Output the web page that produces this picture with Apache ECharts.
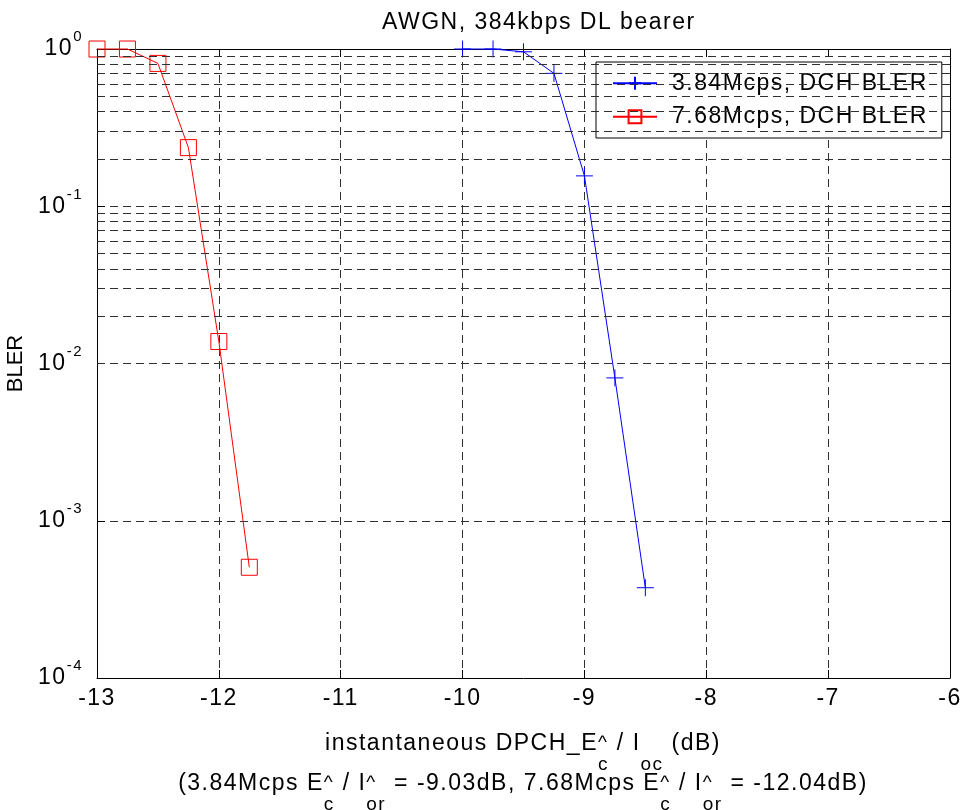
<!DOCTYPE html>
<html><head><meta charset="utf-8">
<script src="https://cdn.jsdelivr.net/npm/echarts@6/dist/echarts.min.js"></script>
<style>html,body{margin:0;padding:0;background:#fff}#c{width:975px;height:810px}</style>
</head><body><div id="c"></div>
<script>
// ---- data ----
const xTicks = [-13, -12, -11, -10, -9, -8, -7, -6];
const ec384 = [-10, -9.75, -9.5, -9.25, -9, -8.75, -8.5];
const bler384 = [1.0, 1.0, 0.96, 0.70, 0.156, 0.0081, 0.000375];
const ec768 = [-13, -12.75, -12.5, -12.25, -12, -11.75];
const bler768 = [1.0, 1.0, 0.81, 0.236, 0.0138, 0.000506];
const yDecades = [-4, -3, -2, -1];
const yMinorMultipliers = [2, 3, 4, 5, 6, 7, 8, 9];
const seriesNames = ['3.84Mcps, DCH BLER', '7.68Mcps, DCH BLER'];
const titleText = 'AWGN, 384kbps DL bearer';
const yName = 'BLER';
const xNameLine1 = ['instantaneous DPCH_E', {sup: '^', sub: 'c'}, ' / I', {sub: 'oc'}, ' (dB)'];
const xNameLine2 = ['(3.84Mcps E', {sup: '^', sub: 'c'}, ' / I', {sup: '^', sub: 'or'}, ' = -9.03dB, 7.68Mcps E', {sup: '^', sub: 'c'}, ' / I', {sup: '^', sub: 'or'}, ' = -12.04dB)'];

// ---- letter spacing to mimic the wide MATLAB text rendering ----
const LETTER_SPACING = '1.5px';
(function () {
  const P = CanvasRenderingContext2D.prototype;
  const d = Object.getOwnPropertyDescriptor(P, 'font');
  if (!d || !('letterSpacing' in P)) return;
  Object.defineProperty(P, 'font', {
    configurable: true,
    get() { return d.get.call(this); },
    set(v) { d.set.call(this, v); this.letterSpacing = /Narrow/.test(v) ? '0px' : LETTER_SPACING; }
  });
})();

const FONT = '"Liberation Sans", Arial, Helvetica, sans-serif';
const BIG = 23, SMALL = 19;
const mctx = document.createElement('canvas').getContext('2d');
function tw(t, size) { mctx.font = size + 'px ' + FONT; return mctx.measureText(t).width; }

function mathLine(parts, cx, cy) {
  const widths = parts.map(p => typeof p === 'string' ? tw(p, BIG)
    : Math.max(p.sup ? tw(p.sup, SMALL) : 0, p.sub ? tw(p.sub, SMALL) : 0));
  const total = widths.reduce((a, b) => a + b, 0);
  let x = cx - total / 2;
  const els = [];
  parts.forEach((p, i) => {
    if (typeof p === 'string') {
      els.push({type: 'text', x: x, y: cy, style: {text: p, fontSize: BIG, fontFamily: FONT, fill: '#000', align: 'left', verticalAlign: 'middle'}});
    } else {
      if (p.sup) els.push({type: 'text', x: x, y: cy - 1, style: {text: p.sup, fontSize: SMALL, fontFamily: FONT, fill: '#000', align: 'left', verticalAlign: 'middle'}});
      if (p.sub) els.push({type: 'text', x: x, y: cy + 21, style: {text: p.sub, fontSize: SMALL, fontFamily: FONT, fill: '#000', align: 'left', verticalAlign: 'middle'}});
    }
    x += widths[i];
  });
  return els;
}

const minorGrid = [];
yDecades.forEach(d => yMinorMultipliers.forEach(m => minorGrid.push({yAxis: m * Math.pow(10, d)})));

const dash = [8, 5];
const gridColor = '#303030';
const plusPath = 'path://M0,8L16,8M8,0L8,16';

const chart = echarts.init(document.getElementById('c'), null, {renderer: 'canvas'});
chart.setOption({
  animation: false,
  backgroundColor: '#fff',
  textStyle: {fontFamily: FONT},
  title: {text: titleText, left: 377, top: 5, textStyle: {fontSize: BIG, fontWeight: 'normal', color: '#000', fontFamily: FONT}},
  grid: {left: 97, right: 25, top: 49, bottom: 132, containLabel: false, outerBoundsMode: 'none'},
  legend: {
    orient: 'vertical', left: 596, top: 62, padding: [9, 14, 9, 16], itemGap: 9,
    itemWidth: 44, itemHeight: 16, backgroundColor: '#fff', borderColor: '#000', borderWidth: 1,
    textStyle: {fontSize: BIG, color: '#000', fontFamily: FONT, lineHeight: 24, padding: [0, 0, 0, 10]},
    data: seriesNames
  },
  xAxis: [{
    type: 'value', min: xTicks[0], max: xTicks[xTicks.length - 1], interval: 1, position: 'bottom',
    axisLine: {show: true, onZero: false, lineStyle: {color: '#000', width: 1}},
    axisTick: {show: true, inside: true, length: 8, lineStyle: {color: '#000'}},
    axisLabel: {color: '#000', fontSize: BIG, fontFamily: FONT, margin: 8},
    splitLine: {show: true, lineStyle: {color: gridColor, type: dash, width: 1}}
  }, {
    type: 'value', min: xTicks[0], max: xTicks[xTicks.length - 1], interval: 1, position: 'top',
    axisLine: {show: true, onZero: false, lineStyle: {color: '#000', width: 1}},
    axisTick: {show: true, inside: true, length: 8, lineStyle: {color: '#000'}},
    axisLabel: {show: false}, splitLine: {show: false}
  }],
  yAxis: [{
    type: 'log', logBase: 10, min: 1e-4, max: 1, position: 'left',
    name: yName, nameLocation: 'middle', nameGap: 61,
    nameTextStyle: {fontSize: 22, color: '#000', fontFamily: '"Liberation Sans Narrow", "Liberation Sans", sans-serif'},
    axisLine: {show: true, onZero: false, lineStyle: {color: '#000', width: 1}},
    axisTick: {show: true, inside: true, length: 8, lineStyle: {color: '#000'}},
    axisLabel: {
      margin: 14, color: '#000',
      formatter: v => '{b|10}{s|' + Math.round(Math.log10(v)) + '}',
      rich: {
        b: {fontSize: BIG, fontFamily: FONT, color: '#000', lineHeight: 40, verticalAlign: 'middle'},
        s: {fontSize: 15, fontFamily: FONT, color: '#000', lineHeight: 15, verticalAlign: 'top'}
      }
    },
    splitLine: {show: true, lineStyle: {color: gridColor, type: dash, width: 1}}
  }, {
    type: 'log', logBase: 10, min: 1e-4, max: 1, position: 'right',
    axisLine: {show: true, onZero: false, lineStyle: {color: '#000', width: 1}},
    axisTick: {show: true, inside: true, length: 8, lineStyle: {color: '#000'}},
    axisLabel: {show: false}, splitLine: {show: false}
  }],
  series: [{
    name: seriesNames[0], type: 'line', clip: false,
    data: ec384.map((x, i) => [x, bler384[i]]),
    symbol: plusPath, symbolSize: 17, showSymbol: true,
    itemStyle: {color: '#0000ff', borderColor: '#0000ff', borderWidth: 1},
    lineStyle: {color: '#0000ff', width: 1},
    markLine: {
      silent: true, symbol: ['none', 'none'], label: {show: false}, animation: false,
      lineStyle: {color: gridColor, type: dash, width: 1}, emphasis: {disabled: true},
      data: minorGrid
    },
    z: 3
  }, {
    name: seriesNames[1], type: 'line', clip: false,
    data: ec768.map((x, i) => [x, bler768[i]]),
    symbol: 'rect', symbolSize: 16, showSymbol: true,
    itemStyle: {color: 'rgba(255,255,255,0)', borderColor: '#ff0000', borderWidth: 1},
    lineStyle: {color: '#ff0000', width: 1},
    z: 3
  }],
  graphic: mathLine(xNameLine1, 523, 744).concat(mathLine(xNameLine2, 523, 784))
});
</script>
</body></html>
